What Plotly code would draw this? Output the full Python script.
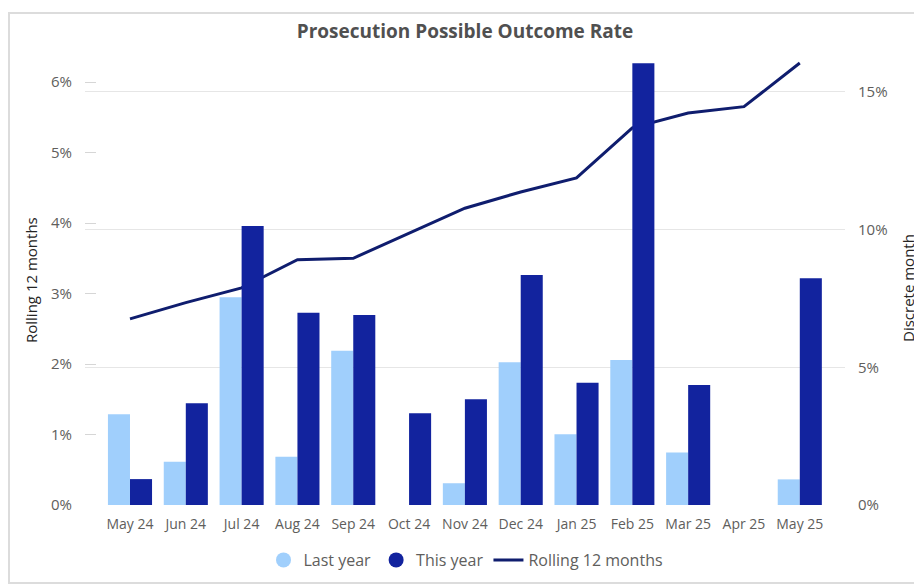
import plotly.graph_objects as go

months = ["May 24", "Jun 24", "Jul 24", "Aug 24", "Sep 24", "Oct 24", "Nov 24",
          "Dec 24", "Jan 25", "Feb 25", "Mar 25", "Apr 25", "May 25"]
last_year = [3.29, 1.57, 7.54, 1.75, 5.60, None, 0.79, 5.18, 2.57, 5.26, 1.91, None, 0.93]
this_year = [0.94, 3.69, 10.13, 6.98, 6.90, 3.33, 3.84, 8.35, 4.44, 16.03, 4.36, None, 8.23]
rolling_12 = [2.64, 2.87, 3.08, 3.48, 3.50, 3.86, 4.21, 4.44, 4.64, 5.35, 5.56, 5.65, 6.27]

left_ticks = [0, 1, 2, 3, 4, 5, 6]
right_ticks = [0, 5, 10, 15]

LIGHT = "#a0cffc"
DARK = "#12239e"
LINE = "#0f1d6e"
FONT = "Open Sans, Noto Sans, sans-serif"
GREY = "#605e5c"

fig = go.Figure()
fig.add_trace(go.Bar(x=months, y=last_year, name="Last year", marker_color=LIGHT,
                     marker_line_width=0, yaxis="y2", showlegend=False))
fig.add_trace(go.Bar(x=months, y=this_year, name="This year", marker_color=DARK,
                     marker_line_width=0, yaxis="y2", showlegend=False))
fig.add_trace(go.Scatter(x=months, y=rolling_12, name="Rolling 12 months", mode="lines",
                         line=dict(color=LINE, width=3), yaxis="y", showlegend=False))
# legend entries
fig.add_trace(go.Scatter(x=[None], y=[None], name="Last year", mode="markers",
                         marker=dict(symbol="circle", size=15, color=LIGHT)))
fig.add_trace(go.Scatter(x=[None], y=[None], name="This year", mode="markers",
                         marker=dict(symbol="circle", size=15, color=DARK)))
fig.add_trace(go.Scatter(x=[None], y=[None], name="Rolling 12 months", mode="lines",
                         line=dict(color=LINE, width=3)))

OFF = 8  # page body margin
W, H = 922 - OFF, 585 - OFF
L, R, T, B = 85 - OFF, 845 - OFF, 58 - OFF, 505 - OFF


def px(xp):
    return (xp - OFF - L) / (R - L)


def py(yp):
    return (B - (yp - OFF)) / (B - T)


fig.update_layout(
    width=W, height=H,
    margin=dict(l=L, r=W - R, t=T, b=H - B, autoexpand=False),
    plot_bgcolor="white", paper_bgcolor="white",
    font=dict(family=FONT, color=GREY, size=13),
    barmode="group", bargap=0.21, bargroupgap=0,
    title=dict(text="<b>Prosecution Possible Outcome Rate</b>", x=0.5, xanchor="center",
               y=1 - (31 - OFF) / H, yanchor="middle",
               font=dict(family=FONT, size=19, color="#505050")),
    xaxis=dict(type="category", range=[-0.806, 12.81], showgrid=False, showline=False,
               ticks="", tickfont=dict(size=14, color=GREY), ticklabelstandoff=9,
               automargin=False),
    yaxis=dict(range=[0, (B - T) / 70.5], tickvals=left_ticks,
               ticktext=[f"{v}%" for v in left_ticks], showgrid=False, zeroline=False,
               ticks="inside", ticklen=11, tickcolor="#d6d6d6", tickwidth=1,
               tickfont=dict(size=15, color=GREY), ticklabelstandoff=12, automargin=False),
    yaxis2=dict(range=[0, (B - T) / 27.55], tickvals=right_ticks,
                ticktext=[f"{v}%" for v in right_ticks], overlaying="y", side="right",
                showgrid=True, gridcolor="#e6e6e6", gridwidth=1, zeroline=False,
                tickfont=dict(size=15, color=GREY), ticklabelstandoff=12, automargin=False),
    legend=dict(orientation="h", x=px(466), xanchor="center", y=py(560), yanchor="middle",
                font=dict(size=16, color=GREY), itemwidth=30, traceorder="normal",
                tracegroupgap=0, bgcolor="rgba(0,0,0,0)"),
    annotations=[
        dict(text="Rolling 12 months", x=px(31), y=py(280), xref="paper", yref="paper",
             textangle=-90, showarrow=False, font=dict(size=15, color="#252423"),
             xanchor="center", yanchor="middle"),
        dict(text="Discrete month", x=px(908), y=py(288), xref="paper", yref="paper",
             textangle=-90, showarrow=False, font=dict(size=15, color="#252423"),
             xanchor="center", yanchor="middle"),
    ],
    shapes=[
        dict(type="rect", xref="paper", yref="paper", x0=px(9), x1=px(940), y0=py(583),
             y1=py(13), line=dict(color="#dcdcdc", width=2), layer="below"),
    ],
)

fig.write_html("out.html")
